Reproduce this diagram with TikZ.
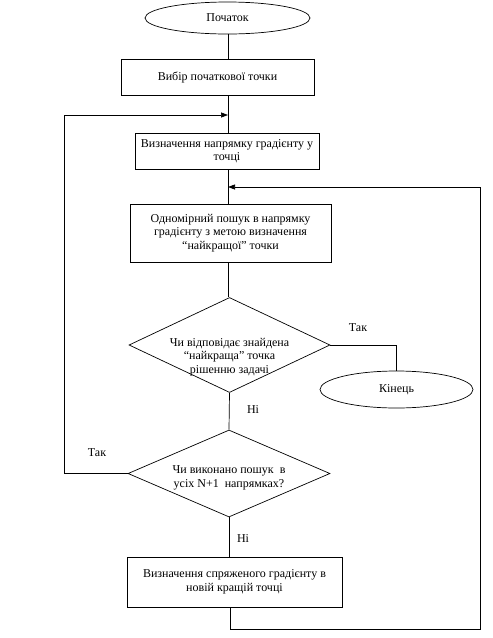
\documentclass[tikz,border=0pt]{standalone}
\usepackage{fontspec}
\setmainfont{Liberation Serif}
\usetikzlibrary{shapes.geometric,arrows.meta}
\begin{document}
\begin{tikzpicture}[x=1pt,y=-1pt,line width=0.7pt,
  every node/.style={font=\fontsize{12}{13.5}\selectfont},
  procbox/.style={draw,rectangle,inner sep=0pt,align=center},
  termin/.style={draw,ellipse,inner sep=0pt},
  decide/.style={draw,diamond,inner sep=0pt,align=center},
  lbl/.style={inner sep=0pt},
  arr/.style={-{Triangle[length=7pt,width=5pt]}}]
\useasboundingbox (0,0) rectangle (493,638);
\node[termin,minimum width=165pt,minimum height=32pt] (e1) at (227.5,18) {Початок};
\node[procbox,minimum width=193pt,minimum height=36pt] (b1) at (217.5,77) {Вибір початкової точки};
\node[procbox,minimum width=184pt,minimum height=36pt] (b2) at (227,151) {Визначення напрямку градієнту у\\точці};
\node[procbox,minimum width=201pt,minimum height=58pt] (b3) at (230.5,233) {Одномірний пошук в напрямку\\градієнту з метою визначення\\“найкращої” точки};
\node[decide,minimum width=201pt,minimum height=95pt] (d1) at (229.5,345) {};
\node[lbl,align=center] (t1) at (229.5,357) {Чи відповідає знайдена\\“найкраща” точка\\рішенню задачі};
\node[termin,minimum width=153pt,minimum height=37pt] (e2) at (396.5,389.5) {Кінець};
\node[decide,minimum width=202pt,minimum height=87pt] (d2) at (229,473.5) {};
\node[lbl,align=center] (t2) at (229,478) {Чи виконано пошук\ \ в\\усіх N+1\ \ напрямках?};
\node[procbox,minimum width=215pt,minimum height=50pt] (b4) at (234.5,582) {Визначення спряженого градієнту в\\новій кращій точці};
\node[lbl] (so1) at (358,328) {Так};
\node[lbl] (no1) at (253,410) {Ні};
\node[lbl] (so2) at (97,453) {Так};
\node[lbl] (no2) at (243,539) {Ні};
\coordinate (sp) at (228,0);
\coordinate (lx) at (64,0);
\coordinate (rx) at (480,0);
\coordinate (in1) at (228,115);
\coordinate (in2) at (228,187);
\coordinate (bot) at (230,629);
\draw (sp |- e1.south) -- (sp |- b1.north);
\draw (sp |- b1.south) -- (sp |- b2.north);
\draw (sp |- b2.south) -- (sp |- b3.north);
\draw (sp |- b3.south) -- (sp |- d1.north);
\draw (d1.south) -- (d2.north);
\draw (d2.south) -- (d2.south |- b4.north);
\draw (d1.east) -| (e2.north);
\draw[arr] (d2.west) -- (lx |- d2.west) -- (lx |- in1) -- (in1);
\draw[arr] (bot |- b4.south) -- (bot) -- (rx |- bot) -- (rx |- in2) -- (in2);
\end{tikzpicture}
\end{document}
